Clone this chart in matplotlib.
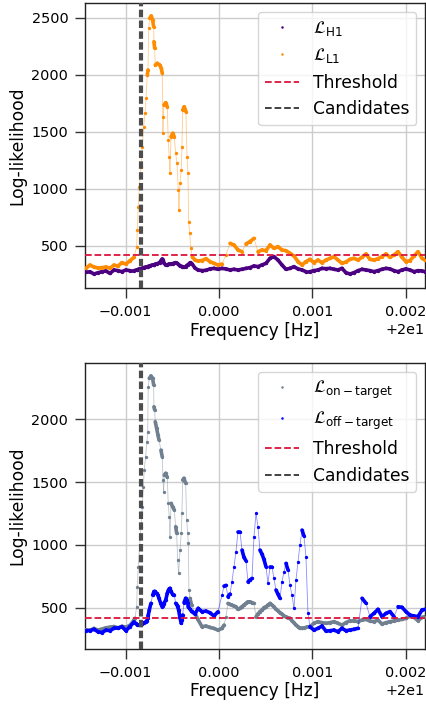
import matplotlib
matplotlib.use("Agg")
import matplotlib.pyplot as plt
from matplotlib.lines import Line2D
from matplotlib.collections import LineCollection
from matplotlib.colors import to_rgba
import numpy as np

# ---------------- data (frequency offsets from 20 Hz, in mHz) ----------------
top_freq_mhz = [
    -1.426, -1.383, -1.340, -1.297, -1.254, -1.211, -1.168, -1.125, -1.083, -1.040, -0.997, -0.954, -0.911,
    -0.882, -0.876, -0.865, -0.854, -0.836, -0.822, -0.807, -0.793, -0.782, -0.768, -0.761, -0.753, -0.743,
    -0.726, -0.711, -0.700, -0.697, -0.689, -0.683, -0.661, -0.636, -0.618, -0.608, -0.600, -0.597, -0.590,
    -0.571, -0.554, -0.544, -0.533, -0.525, -0.514, -0.496, -0.479, -0.464, -0.450, -0.436, -0.429, -0.418,
    -0.404, -0.397, -0.389, -0.372, -0.354, -0.343, -0.332, -0.325, -0.314, -0.303, -0.286, -0.257,
    -0.225, -0.182, -0.139, -0.096, -0.054, -0.011, 0.032, 0.075, 0.118, 0.161, 0.204, 0.247, 0.289, 0.332,
    0.375, 0.418, 0.461, 0.504, 0.547, 0.589, 0.632, 0.675, 0.718, 0.761, 0.804, 0.847, 0.890, 0.932, 0.975,
    1.018, 1.061, 1.104, 1.147, 1.190, 1.233, 1.275, 1.318, 1.361, 1.404, 1.447, 1.490, 1.533, 1.576, 1.618,
    1.661, 1.704, 1.747, 1.790, 1.833, 1.876, 1.919, 1.961, 2.004, 2.047, 2.090, 2.133, 2.176, 2.208,
]
loglike_h1 = [
    275, 275, 255, 265, 275, 281, 260, 290, 284, 275, 290, 284, 284,
    290, 292, 295, 298, 300, 305, 310, 313, 315, 318, 320, 322, 325, 330, 333, 335, 335, 338, 340, 345,
    355, 375, 386, 380, 370, 350, 333, 335, 338, 340, 340, 342, 345, 350, 354, 350, 340, 335, 325, 322,
    320, 318, 316, 320, 330, 333, 340, 350, 354, 340, 307,
    290, 284, 287, 299, 304, 296, 304, 299, 290, 296, 290, 296, 304, 310, 325, 319, 334, 348, 392, 407,
    377, 334, 296, 304, 319, 299, 290, 275, 275, 284, 290, 304, 301, 304, 296, 290, 304, 266, 255, 266,
    284, 296, 290, 284, 275, 284, 296, 304, 299, 284, 275, 290, 299, 290, 275, 284, 281, 275,
]
loglike_l1 = [
    305, 333, 316, 307, 310, 316, 305, 333, 324, 354, 342, 371, 400,
    494, 640, 844, 1019, 1195, 1370, 1545, 1662, 1794, 1998, 2042, 2407, 2495, 2515, 2480, 2421, 2290,
    2232, 2086, 2100, 2086, 2057, 2013, 1487, 1633, 1735, 1755, 1720, 1429, 1282, 1137, 1457, 1487, 1457,
    1312, 1224, 990, 815, 1049, 1166, 1370, 1691, 1720, 1677, 1282, 1137, 713, 611, 480, 406, 377,
    369, 372, 389, 363, 348, 334, 342, 421, 523, 509, 465, 450, 518, 538, 567, 450, 465, 459, 509, 480,
    494, 465, 459, 436, 412, 363, 334, 363, 383, 354, 377, 354, 377, 392, 407, 377, 348, 360, 383, 392,
    377, 401, 430, 383, 377, 389, 407, 430, 401, 421, 450, 401, 363, 372, 412, 450, 392, 377,
]

bottom_freq_mhz = [
    -1.426, -1.383, -1.340, -1.297, -1.254, -1.211, -1.168, -1.125, -1.083, -1.040, -0.997, -0.954, -0.911,
    -0.900, -0.882, -0.876, -0.865, -0.836, -0.822, -0.811, -0.801, -0.786, -0.772, -0.764, -0.758, -0.747,
    -0.729, -0.711, -0.700, -0.697, -0.689, -0.683, -0.668, -0.654, -0.643, -0.622, -0.608, -0.600, -0.593,
    -0.586, -0.571, -0.554, -0.544, -0.533, -0.525, -0.514, -0.496, -0.479, -0.464, -0.453, -0.443, -0.432,
    -0.418, -0.404, -0.397, -0.389, -0.375, -0.357, -0.346, -0.335, -0.329, -0.322, -0.311, -0.293, -0.257,
    -0.222,
    -0.182, -0.139, -0.096, -0.054, -0.011, 0.032,
    0.054, 0.075, 0.096, 0.118, 0.139, 0.161, 0.182, 0.204, 0.225, 0.247, 0.268, 0.289, 0.311, 0.332,
    0.354, 0.375, 0.397, 0.418, 0.439, 0.461, 0.482, 0.504, 0.525, 0.547, 0.568, 0.589, 0.611, 0.632,
    0.654, 0.675, 0.697, 0.718, 0.740, 0.761, 0.782, 0.804, 0.825, 0.847, 0.868, 0.890, 0.911, 0.932,
    0.954, 0.975,
    1.018, 1.061, 1.104, 1.147, 1.190, 1.233, 1.275, 1.318, 1.361, 1.404, 1.447, 1.490, 1.533, 1.576,
    1.618, 1.661, 1.704, 1.747, 1.790, 1.833, 1.876, 1.919, 1.961, 2.004, 2.047, 2.090, 2.133, 2.176, 2.208,
]
loglike_on_target = [
    325, 320, 335, 322, 330, 340, 345, 350, 340, 352, 345, 360, 400,
    415, 508, 667, 827, 1145, 1304, 1463, 1596, 1702, 1822, 1901, 2260, 2326, 2345, 2326, 2273, 2100,
    2074, 1981, 1928, 1875, 1835, 1755, 1702, 1517, 1424, 1556, 1570, 1538, 1331, 1225, 1065, 1331, 1304,
    1278, 1145, 1092, 880, 773, 959, 1092, 1251, 1517, 1530, 1490, 1198, 1092, 1012, 641, 574, 521, 455,
    402,
    349, 354, 343, 335, 322, 335,
    362, 428, 534, 526, 521, 513, 508, 487, 495, 508, 521, 534, 548, 548, 540, 534, 428, 450, 468, 481,
    500, 508, 521, 534, 521, 508, 487, 476, 460, 450, 434, 428, 420, 415, 396, 380, 362, 349, 335, 335,
    338, 343, 349, 349,
    376, 389, 381, 376, 381, 389, 376, 362, 381, 397, 397, 389, 402, 407, 394, 389, 402, 370, 381, 389,
    394, 402, 407, 415, 434, 423, 397, 423, 429,
]
loglike_off_target = [
    318, 317, 328, 309, 301, 322, 317, 336, 336, 349, 317, 349, 386,
    380, 370, 365, 362, 365, 370, 376, 380, 385, 395, 415, 440, 480, 535, 600, 620, 628, 630, 625, 614,
    600, 575, 530, 508, 515, 530, 540, 560, 614, 635, 650, 654, 630, 605, 601, 535, 525, 510, 480, 420,
    376, 400, 442, 540, 575, 560, 540, 508, 500, 490, 470, 450,
    495,
    468, 473, 460, 434, 468, 600,
    672, 678, 588, 609, 707, 826, 946, 1105, 1105, 959, 901, 874, 707, 720, 733, 1065, 1251, 1145, 959,
    927, 885, 826, 694, 826, 826, 733, 641, 609, 574, 707, 787, 853, 800, 680, 601, 495, 720, 866, 999,
    1118, 1071, 906, 455, 349,
    322, 336, 354, 314, 317, 322, 309, 336, 317, 322, 328, 336, 575, 535, 429, 455, 487, 429, 455, 469,
    429, 508, 503, 469, 442, 434, 429, 482, 487,
]

base_freq = 20.0          # Hz
threshold = 420
candidate_mhz = -0.836
xlim_mhz = (-1.436, 2.208)
xtick_mhz = [-1.0, 0.0, 1.0, 2.0]
top_ylim = (129, 2626)
bottom_ylim = (171, 2446)

# ---------------- plotting ----------------
TICK_FS = 10.4
LABEL_FS = 12.3

fig = plt.figure(figsize=(4.27, 7.06), dpi=100)
ax_top = fig.add_axes([0.199, 0.5916, 0.7963, 0.4037])
ax_bot = fig.add_axes([0.199, 0.0807, 0.7963, 0.4047])


def to_hz(mhz_list):
    return base_freq + np.asarray(mhz_list) * 1e-3


def style_axis(ax, ylim):
    ax.set_xlim(to_hz(xlim_mhz))
    ax.set_ylim(ylim)
    ax.set_xticks(to_hz(xtick_mhz))
    ax.grid(True, color="#cccccc", linewidth=1.0, zorder=0)
    ax.set_axisbelow(True)
    ax.tick_params(axis="both", which="major", direction="out", length=7.5, width=1.0,
                   labelsize=TICK_FS, color="#333333", pad=4.5)
    for s in ax.spines.values():
        s.set_linewidth(1.0)
        s.set_color("#222222")
    ax.set_xlabel("Frequency [Hz]", fontsize=LABEL_FS, labelpad=2)
    ax.set_ylabel("Log-likelihood", fontsize=LABEL_FS, labelpad=4)
    ax.xaxis.get_offset_text().set_fontsize(TICK_FS)
    ax.axhline(threshold, color="crimson", linestyle="--", linewidth=1.3, zorder=4)
    ax.axvline(base_freq + candidate_mhz * 1e-3, color="#4d4d4d", linewidth=3.0,
               linestyle=(0, (1.8, 0.8)), zorder=5)


def trace(ax, f_mhz, vals, color):
    """Dense dotted trace: flat stretches render as a thick band,
    steep jumps between samples only as a faint thin link."""
    f = to_hz(f_mhz)
    v = np.asarray(vals, dtype=float)
    pts = np.column_stack([f, v])
    segs = np.stack([pts[:-1], pts[1:]], axis=1)
    steep = np.abs(np.diff(v)) > 60
    widths = np.where(steep, 0.6, 2.6)
    cols = [to_rgba(color, 0.45 if s else 1.0) for s in steep]
    lc = LineCollection(segs, linewidths=widths, colors=cols, capstyle="round", zorder=3)
    ax.add_collection(lc)
    ax.plot(f, v, color=color, linestyle="none", marker="o", markersize=2.4,
            markeredgewidth=0, zorder=3)


# top panel
trace(ax_top, top_freq_mhz, loglike_h1, "indigo")
trace(ax_top, top_freq_mhz, loglike_l1, "darkorange")
style_axis(ax_top, top_ylim)

# bottom panel
trace(ax_bot, bottom_freq_mhz, loglike_on_target, "slategray")
trace(ax_bot, bottom_freq_mhz, loglike_off_target, "blue")
style_axis(ax_bot, bottom_ylim)


def legend(ax, labels, colors):
    handles = [Line2D([], [], linestyle="none", marker="o", markersize=1.8,
                      markeredgewidth=0, color=c) for c in colors]
    handles += [Line2D([], [], color="crimson", linestyle="--", linewidth=1.3),
                Line2D([], [], color="#333333", linestyle="--", linewidth=1.3)]
    ax.legend(handles, labels + ["Threshold", "Candidates"], loc="upper right",
              fontsize=LABEL_FS, framealpha=0.8, edgecolor="#cccccc", fancybox=True)


legend(ax_top, [r"$\mathcal{L}_{\rm H1}$", r"$\mathcal{L}_{\rm L1}$"], ["indigo", "darkorange"])
legend(ax_bot, [r"$\mathcal{L}_{\rm on-target}$", r"$\mathcal{L}_{\rm off-target}$"],
       ["slategray", "blue"])

fig.savefig("out.png", dpi=100)
